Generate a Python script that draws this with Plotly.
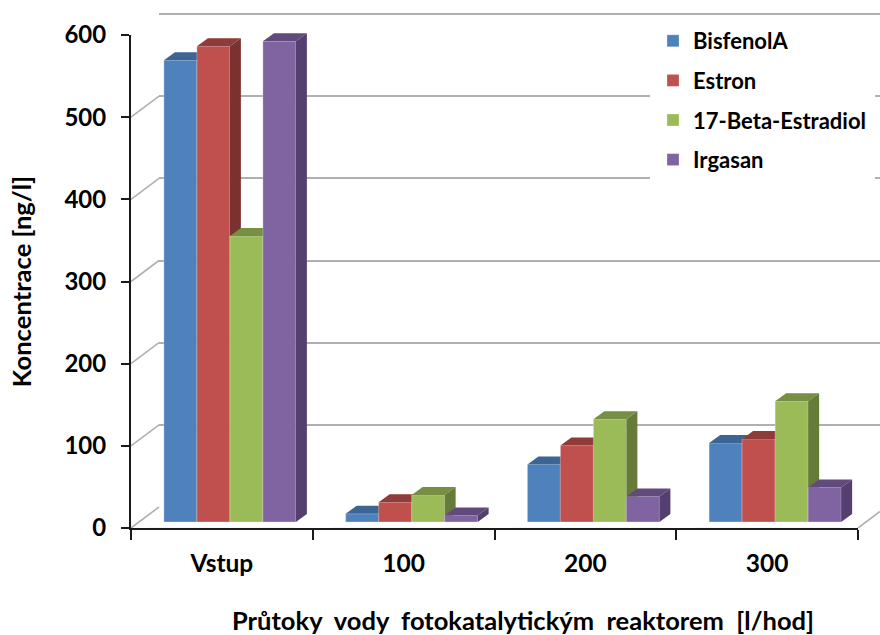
import plotly.graph_objects as go

categories = ["Vstup", "100", "200", "300"]
series_names = ["BisfenolA", "Estron", "17-Beta-Estradiol", "Irgasan"]
bisfenol = [562, 10, 70, 96]
estron = [579, 24, 93, 101]
estradiol = [348, 33, 125, 147]
irgasan = [585, 8, 31, 42]
series_values = [bisfenol, estron, estradiol, irgasan]
x_title = "Průtoky\u00a0 vody\u00a0 fotokatalytickým\u00a0 reaktorem\u00a0 [l/hod]"
y_title = "Koncentrace [ng/l]"

front_colors = ["#4F81BD", "#C0504D", "#9BBB59", "#8064A2"]
top_colors = ["#3D6594", "#8F3B39", "#768F43", "#614B7C"]
side_colors = ["#2F4E71", "#7A3230", "#657C39", "#553F6E"]

W, H = 880, 635
X0, X1 = 131, 858      # axis plane
Y0, Y1 = 528, 35
PX_PER_UNIT = (Y0 - Y1) / 600
PX_PER_CAT = (X1 - X0) / 4

BAR_SHIFT = (8, 6)     # front of bars relative to axis plane
WALL_SHIFT = (28, 21)  # back wall relative to axis plane
DEPTH = (11, 8)        # visible bar depth
BAR_W = 33 / PX_PER_CAT
DX = DEPTH[0] / PX_PER_CAT
DY = DEPTH[1] / PX_PER_UNIT

FONT = "Lato"
TXT = "#000000"
GRID = "#b0b0b0"


def xdom(a, b):
    return [a / W, min(b / W, 1)]


def ydom(bottom, top):
    return [1 - bottom / H, 1 - top / H]


def fnt(size):
    return dict(family=FONT, size=size, color=TXT, weight=700)


fig = go.Figure()
layout = dict(
    width=W, height=H, margin=dict(l=0, r=0, t=0, b=0, pad=0),
    paper_bgcolor="white", plot_bgcolor="rgba(0,0,0,0)", barmode="overlay",
    font=fnt(22), showlegend=True,
    legend=dict(
        x=650 / W, y=1 - 17 / H, xanchor="left", yanchor="top", bgcolor="white",
        bordercolor="white", borderwidth=3,
        font=fnt(22), tracegroupgap=8, traceorder="grouped",
        entrywidth=190, entrywidthmode="pixels", itemclick=False, itemdoubleclick=False,
    ),
)

# main axes: ticks, labels and titles
layout["xaxis"] = dict(
    type="category", categoryorder="array", categoryarray=categories, automargin=False,
    range=[-0.5, 3.5], domain=xdom(X0, X1), anchor="y", tickson="boundaries",
    ticks="outside", ticklen=10, tickwidth=2, tickcolor="#1a1a1a", ticklabelstandoff=13,
    showline=True, linecolor="#1a1a1a", linewidth=2, showgrid=False, zeroline=False,
    tickfont=fnt(24.5),
)
layout["yaxis"] = dict(
    range=[0, 600], domain=ydom(Y0, Y1), anchor="x", dtick=100, automargin=False,
    ticks="outside", ticklen=8, tickwidth=2, tickcolor="#1a1a1a", ticklabelstandoff=10,
    showline=True, linecolor="#1a1a1a", linewidth=2, showgrid=False, zeroline=False,
    tickfont=fnt(24),
    title=dict(text=y_title, font=fnt(25.6), standoff=25),
)
layout["annotations"] = [dict(text=x_title, xref="paper", yref="paper", x=523 / W, y=1 - 620 / H,
                              xanchor="center", yanchor="middle", showarrow=False, font=fnt(25.5))]
fig.add_trace(go.Bar(x=categories, y=[0, 0, 0, 0], xaxis="x", yaxis="y",
                     showlegend=False, hoverinfo="skip", marker_color="rgba(0,0,0,0)"))

# back wall gridlines (range runs a little past 600 so that top line is kept)
pad_px = 6
layout["xaxis2"] = dict(domain=xdom(X0 + WALL_SHIFT[0], W), anchor="y2", range=[0, 1], visible=False,
                        automargin=False)
layout["yaxis2"] = dict(domain=ydom(Y0 - WALL_SHIFT[1], Y1 - WALL_SHIFT[1] - pad_px), anchor="x2",
                        range=[0, 600 + pad_px / PX_PER_UNIT], tickvals=list(range(0, 601, 100)),
                        showgrid=True, gridcolor=GRID, gridwidth=1.6, automargin=False,
                        zeroline=False, showline=False, showticklabels=False, ticks="")
fig.add_trace(go.Scatter(x=[0], y=[0], xaxis="x2", yaxis="y2", mode="markers",
                         marker=dict(opacity=0), showlegend=False, hoverinfo="skip"))

# one stacked subplot per series so each later series paints over the earlier one
n = len(series_values)
for i, vals in enumerate(series_values):
    s = str(i + 3)
    layout["xaxis" + s] = dict(domain=xdom(X0 + BAR_SHIFT[0], X1 + BAR_SHIFT[0]), anchor="y" + s,
                               range=[-0.5, 3.5], visible=False, automargin=False)
    layout["yaxis" + s] = dict(domain=ydom(Y0 - BAR_SHIFT[1], Y1 - BAR_SHIFT[1]), anchor="x" + s,
                               range=[0, 600], visible=False, automargin=False)
    offset = (i - n / 2) * BAR_W
    pos = list(range(len(categories)))
    fig.add_trace(go.Bar(
        x=pos, y=vals, width=BAR_W, offset=offset, name=series_names[i], legendgroup=series_names[i],
        xaxis="x" + s, yaxis="y" + s,
        marker=dict(color=front_colors[i], line=dict(color="rgba(255,255,255,0.35)", width=0.8)),
    ))
    tx, ty, sx, sy = [], [], [], []
    for p, v in zip(pos, vals):
        a = p + offset
        b = a + BAR_W
        tx += [a, b, b + DX, a + DX, a, None]
        ty += [v, v, v + DY, v + DY, v, None]
        sx += [b, b + DX, b + DX, b, b, None]
        sy += [0, DY, v + DY, v, 0, None]
    for px, py, col in ((tx, ty, top_colors[i]), (sx, sy, side_colors[i])):
        fig.add_trace(go.Scatter(x=px, y=py, mode="lines", fill="toself", fillcolor=col,
                                 line=dict(width=0, color=col), xaxis="x" + s, yaxis="y" + s,
                                 showlegend=False, hoverinfo="skip"))

# diagonal wall/floor edges, expressed in y-axis units
rise = WALL_SHIFT[1] / PX_PER_UNIT
shapes = []
for v in range(0, 601, 100):
    shapes.append(dict(type="line", xref="paper", yref="y", x0=X0 / W, x1=(X0 + WALL_SHIFT[0]) / W,
                       y0=v, y1=v + rise, line=dict(color=GRID, width=1.6), layer="below"))
shapes.append(dict(type="line", xref="paper", yref="y", x0=X1 / W, x1=1, y0=0,
                   y1=rise * (W - X1) / WALL_SHIFT[0], line=dict(color=GRID, width=1.6), layer="below"))
layout["shapes"] = shapes

fig.update_layout(**layout)
fig.write_html("out.html", post_script="document.body.style.margin='0';",
               config={"displayModeBar": False})
